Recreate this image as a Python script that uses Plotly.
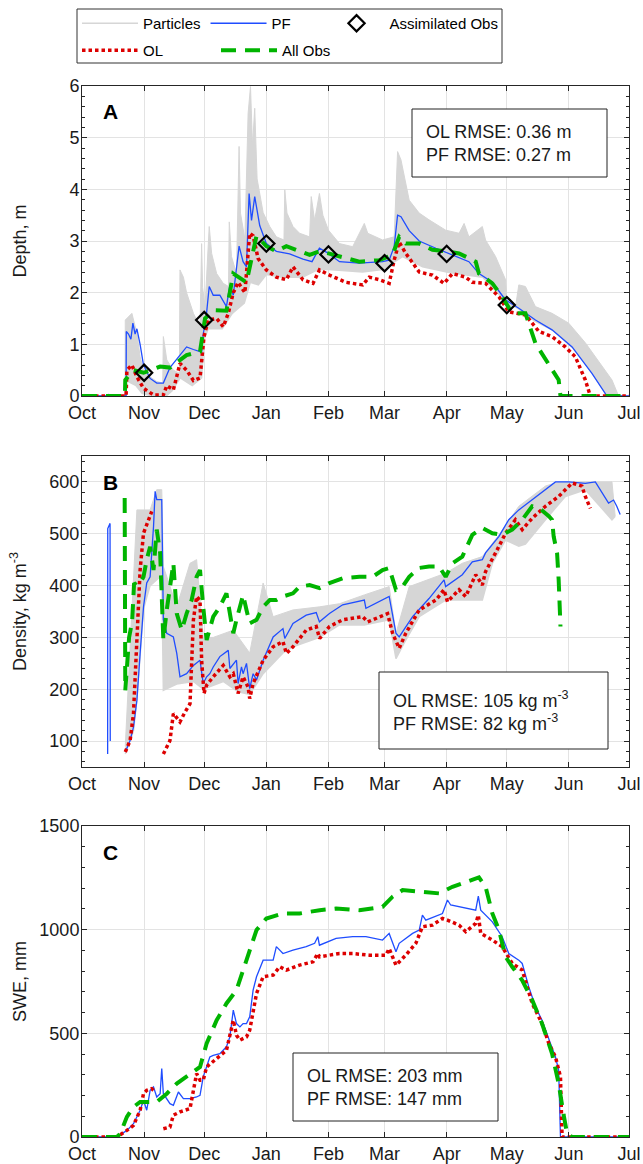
import pandas as pd
import plotly.graph_objects as go

# ---------------- axis labels ----------------
START = "2016-10-01"
month_ticks = ["2016-10-01", "2016-11-01", "2016-12-01", "2017-01-01", "2017-02-01",
               "2017-03-01", "2017-04-01", "2017-05-01", "2017-06-01", "2017-07-01"]
month_labels = ["Oct", "Nov", "Dec", "Jan", "Feb", "Mar", "Apr", "May", "Jun", "Jul"]

# ---------------- Panel A: depth (m); x = days since 1 Oct ----------------
a_obs_day = [0, 21.4, 21.6, 25.7, 30.7, 39, 43.9, 52.2, 58.9, 61.4, 65.5, 72.1, 75.5, 82.1, 87.1, 92, 97,
             102, 113.6, 118.5, 123, 138.4, 148.4, 155, 158.3, 161.6, 168.3, 174.9, 181.5, 188.2, 196.5,
             198.1, 204.8, 209.7, 214.7, 221.3, 226.3, 233, 237.9, 238.8, 273]
a_obs_val = [0, 0, 0.31, 0.5, 0.45, 0.57, 0.55, 0.79, 0.86, 1.5, 1.66, 1.65, 2.37, 2.2, 3.1, 2.9, 2.8,
             2.9, 2.73, 2.8, 2.76, 2.6, 2.63, 2.73, 3.08, 2.95, 2.95, 2.83, 2.8, 2.76, 2.6,
             2.37, 2.18, 1.92, 1.6, 1.6, 1.02, 0.63, 0.31, 0, 0]

a_pf_day = [0, 12, 13.3, 14.5, 22, 22.1, 23.2, 24.4, 25.4, 26.5, 27.4, 29, 30.7, 34, 37.3, 40.6, 43.9, 49.8,
            52.2, 55.6, 59.7, 60.5, 61.9, 63.5, 65.5, 68.8, 72.1, 73.8, 75.5, 78.4, 80.4, 82.1, 83.4, 84.6,
            86.2, 88.7, 92, 97, 103.6, 110.3, 114.8, 116.9, 118.5, 123, 128.5, 138.4, 150, 153.3, 155.8,
            157.5, 159.2, 163.3, 168.3, 176.6, 184.9, 193.1, 198.1, 204.8, 211.4, 218, 226.3, 234.6,
            244.6, 254.5, 262, 273]
a_pf_val = [0, 0, 0.03, 0, 0, 1.25, 1.2, 1.1, 1.41, 1.2, 1.3, 1.0, 0.6, 0.34, 0.25, 0.25, 0.55, 0.85,
            0.95, 0.9, 0.85, 1.2, 1.5, 2.12, 1.95, 1.95, 1.73, 2.15, 1.95, 2.9, 2.6, 2.5, 3.92, 3.4,
            3.86, 3.3, 2.95, 2.8, 2.75, 2.65, 2.6, 2.75, 2.86, 2.76, 2.6, 2.57, 2.6, 2.63, 2.89,
            3.5, 3.47, 3.2, 3.0, 2.86, 2.73, 2.6, 2.37, 2.2, 1.86, 1.7, 1.47, 1.28,
            0.95, 0.44, 0, 0]

a_ol_day = [0, 22, 22.4, 24.9, 27.4, 30.7, 35.7, 40.6, 42.3, 45.6, 48.9, 52.2, 55.6, 58.9, 60.9, 63, 67.2,
            70.5, 73, 75.5, 77.9, 81.3, 83.7, 85.4, 87.9, 92, 97, 102, 105.3, 110.3, 115.3, 118.5, 123.5,
            131.8, 140.1, 143.4, 148.4, 153.3, 155.8, 158.3, 161.6, 168.3, 174.9, 180.7, 184.9, 191.5,
            194.8, 201.4, 208.1, 213, 221.3, 228, 234.6, 241.2, 246.2, 251.2, 253.7, 273]
a_ol_val = [0, 0, 0.5, 0.6, 0.37, 0.15, 0.02, 0.02, 0.2, 0.12, 0.63, 0.5, 0.3, 0.35, 1.15, 1.47, 1.5,
            1.34, 1.6, 2.0, 2.2, 2.0, 3.15, 3.1, 2.66, 2.44, 2.3, 2.25, 2.5, 2.25, 2.18, 2.44, 2.34,
            2.2, 2.15, 2.3, 2.25, 2.18, 2.63, 2.98, 2.76, 2.4, 2.34, 2.18, 2.37, 2.3,
            2.2, 2.18, 1.92, 1.63, 1.57, 1.25, 1.15, 0.95, 0.76, 0.31, 0, 0]

a_part_hi_day = [0, 21.5, 21.6, 24.9, 27.4, 29.0, 30.7, 34.0, 37.3, 40.3, 40.6, 42.3, 45.6, 48.6, 48.9,
                 50.6, 52.2, 55.6, 58.9, 59.7, 60.2, 61.4, 63.5, 64.7, 67.2, 70.5, 73.1, 73.5, 74.6,
                 77.1, 78.4, 79.1, 81.3, 82.9, 84.1, 85.1, 86.2, 87.4, 90.4, 93.7, 97.0, 100.8, 101.2,
                 102.3, 105.3, 108.6, 113.6, 114.4, 116.1, 118.5, 120.2, 123, 128.5, 135.1, 140.9,
                 142.6, 150, 155.8, 157.5, 159.2, 163.3, 168.3, 173.2, 181.5, 188.2, 190.7, 193.1,
                 199.8, 201.4, 206.4, 211.4, 212.2, 216.4, 218, 221.3, 226.3, 234.6, 242.9, 251.2,
                 259.5, 264.5, 267.8, 273]
a_part_hi_val = [0, 0, 1.47, 1.6, 1.21, 0.76, 0.5, 0.37, 0.28, 0.25, 1.15, 0.7, 0.5, 0.44, 2.44,
                 2.3, 2.0, 1.6, 1.34, 2.95, 2.1, 1.72, 3.28, 2.76, 2.37, 2.18, 2.12, 3.37, 2.7,
                 2.37, 4.83, 3.54, 3.03, 5.47, 5.99, 4.83, 5.57, 4.2, 3.55, 3.28, 3.08, 3.02, 3.99,
                 3.54, 3.28, 3.15, 3.08, 3.86, 3.4, 3.92, 3.5, 3.21, 2.95, 2.89, 3.34,
                 3.15, 3.02, 3.08, 4.73, 4.57, 3.79, 3.54, 3.41, 3.21, 3.15, 3.34, 3.08,
                 3.28, 3.02, 2.7, 2.25, 1.73, 1.73, 2.15, 2.12, 1.73, 1.6, 1.41, 1.03,
                 0.57, 0.31, 0, 0]
a_part_lo_day = [0, 22, 22.1, 27, 30, 35, 42, 45, 49, 55, 59.7, 61, 63, 70, 75, 81, 84, 88, 92, 100, 110,
                 118, 123, 140, 150, 156, 160, 170, 182, 190, 200, 211, 218, 226, 235, 245, 255, 262, 273]
a_part_lo_val = [0, 0, 0.3, 0.2, 0.05, 0, 0, 0.1, 0.35, 0.2, 0.35, 1.1, 1.3, 1.3, 1.6, 1.8, 2.2, 2.15, 2.35,
                 2.3, 2.3, 2.45, 2.45, 2.4, 2.45, 2.6, 2.7, 2.5, 2.4, 2.35, 2.3, 1.85, 1.68, 1.45, 1.27,
                 0.93, 0.43, 0, 0]

assim_day = [31, 61, 92, 123, 151, 182, 212]
assim_val = [0.45, 1.47, 2.95, 2.74, 2.57, 2.75, 1.76]

# ---------------- Panel B: density (kg m-3) ----------------
b_obs_day = [21.3, 21.6, 23.5, 25.0, 26, 27.4, 29, 30.7, 32.3, 34, 35.7, 37.3, 39, 40.6, 42.3, 43.9, 45.6,
             47.3, 49.8, 52.2, 54.7, 57.2, 58.9, 60.5, 62.2, 65.5, 68.8, 72.1, 73.8, 75.5, 77.1, 80.4,
             82.1, 83.7, 87.1, 90.4, 93.7, 97, 100.3, 105.3, 108.6, 113.6, 118.6, 123.5, 130.1, 138.4,
             145.1, 150, 153.3, 156.7, 160, 163.3, 168.3, 173.2, 178.2, 181.5, 184.9, 189.8, 194.8,
             199.8, 204.8, 209.7, 214.7, 219.7, 224.7, 228, 233, 234.6, 235.4, 237.1, 237.9, 238.8]
b_obs_val = [569, 198, 300, 330, 405, 400, 405, 417, 450, 475, 430, 508, 463, 295, 353, 398, 443,
             346, 314, 346, 372, 417, 430, 359, 295, 340, 359, 385, 346, 308, 334, 382,
             353, 327, 334, 359, 372, 372, 379, 385, 398, 401, 395, 405, 414, 417,
             417, 430, 434, 392, 398, 417, 434, 437, 437, 417, 443, 456, 498,
             511, 501, 498, 508, 527, 553, 550, 534, 527, 495, 463, 411, 321]

b_pf_day = [12.8, 12.85, 14.0, 14.1, 14.2, 21.6, 24, 25.7, 27.4, 29, 30.7, 32.3, 34, 35.7, 36.5, 37.3, 39.8,
            40.6, 42.3, 45.6, 47.3, 48.9, 52.2, 55.6, 58.9, 60.5, 62.2, 63.8, 65.5, 68.8, 73, 73.8, 77.1,
            77.9, 79.6, 80.4, 82.1, 83.7, 85.4, 87.1, 90.4, 95.4, 100.3, 101.2, 105.3, 111.9, 116.9,
            118.5, 123.5, 130.1, 140.9, 141.7, 153.3, 156.7, 158.3, 165, 173.2, 180.7, 181.5, 189.8,
            194.8, 199.8, 201.4, 208.1, 213, 218, 224.7, 231.3, 236.3, 242.9, 251.2, 256.2, 259.5,
            262.8, 265.3, 266.9, 268.6]
b_pf_val = [75, 510, 520, 100, None, 79, 101, 127, 179, 269, 359, 405, 417, 514, 582, 566, 566,
            334, 308, 301, 269, 224, 230, 246, 256, 211, 224, 230, 243, 263, 275, 240, 256,
            211, 243, 230, 250, 201, 230, 218, 256, 301, 317, 298, 327, 343, 348,
            330, 346, 363, 372, 356, 379, 308, 301, 340, 375, 411, 398, 421,
            446, 450, 463, 495, 527, 546, 566, 585, 600, 600, 597, 600, 579,
            559, 565, 553, 537]

b_ol_day = [21.6, 24, 25.7, 27.4, 29, 30.7, 33.2, 34.8, 35.0, 40.6, 43.9, 45.6, 47.3, 48.9, 51.4, 53.9,
            55.6, 57.2, 58.9, 59.7, 60.9, 62.2, 65.5, 70.5, 73.8, 75.5, 77.9, 80.4, 82.9, 83.7, 85.4,
            90.4, 95.4, 100.3, 102, 105.3, 111.9, 116.9, 118.6, 123.5, 130.1, 140.1, 142.6, 152.5,
            155, 158.3, 161.6, 168.3, 176.6, 180.7, 182.4, 188.2, 191.5, 196.5, 199.8, 201.4, 206.4,
            211.4, 216.3, 219.7, 224.7, 231.3, 237.9, 244.6, 249.5, 251.2, 253.7]
b_ol_val = [79, 101, 153, 308, 430, 501, 527, 543, None, 75, 101, 153, 146, 137, 156, 172,
            334, 379, 372, 256, 192, 208, 224, 246, 224, 230, 192, 224, 204, 182, 211,
            256, 282, 292, 269, 282, 314, 321, 298, 321, 334, 340, 330, 346,
            308, 279, 308, 353, 372, 392, 369, 392, 379, 421, 401, 427, 463,
            501, 527, 508, 530, 553, 572, 598, 592, 572, 549]

b_part_hi_day = [21.6, 27.4, 34, 37.3, 39.8, 40.6, 47.3, 53.9, 57.2, 60.5, 65.5, 75.5, 83.7, 90.4, 95.4,
                 105.3, 118.6, 128.5, 140.9, 153.3, 156.7, 163.3, 181.5, 189.8, 199.8, 208.1, 218,
                 231.3, 237.9, 264.5, 266.1]
b_part_hi_val = [90, 546, 546, 585, 585, 437, 359, 443, 450, 300, 300, 314, 270, 405, 340,
                 353, 359, 365, 382, 398, 308, 398, 424, 443, 456, 498, 553,
                 592, 600, 600, 534]
b_part_lo_day = [21.6, 25.7, 27.4, 29, 30.7, 34, 39.8, 40.6, 47.3, 55.6, 60.5, 70.5, 77.9, 83.7, 90.4,
                 100.3, 105.3, 118.6, 128.5, 140.9, 153.3, 156.7, 161.6, 168.3, 181.5, 191.5, 199.8,
                 204.8, 211.4, 218, 221.3, 231.3, 241.2, 251.2, 264.5, 266.1]
b_part_lo_val = [75, 120, 180, 270, 355, 400, 420, 198, 210, 215, 200, 215, 195, 190, 230,
                 270, 282, 300, 324, 324, 334, 259, 295, 340, 372, 372, 372,
                 443, 488, 476, 480, 527, 572, 585, 527, 534]

# ---------------- Panel C: SWE (mm) ----------------
c_obs_day = [0, 17.4, 19.1, 22.4, 25.7, 29, 37.3, 42.3, 47.3, 52.2, 58.9, 62.2, 67.2, 72.1, 77.1, 82.1,
             87.1, 92, 100.3, 108.6, 118.6, 126.8, 138.4, 150, 155, 160, 168.3, 178.2, 184.9, 191.5,
             198.1, 201.4, 204.8, 208.1, 211.4, 214.7, 219.7, 224.7, 229.6, 234.6, 237.9, 240.4, 242.1,
             244.6, 273]
c_obs_val = [0, 0, 16, 97, 145, 169, 169, 209, 258, 290, 338, 451, 563, 644, 708, 853,
             998, 1054, 1078, 1078, 1094, 1102, 1094, 1110, 1159, 1191, 1183, 1175, 1207, 1231,
             1252, 1207, 1078, 998, 869, 821, 756, 660, 547, 402, 258, 105, 16,
             0, 0]

c_pf_day = [0, 17.4, 22.4, 25.7, 29, 30.7, 32.3, 34, 35.7, 37.3, 39, 39.8, 40.6, 43.9, 45.6, 48.1, 50.6,
            53.9, 57.2, 58.9, 60.5, 63.8, 65.5, 68.8, 72.1, 73.8, 75.5, 77.1, 78.8, 80.4, 82.1, 83.7,
            85.4, 87.1, 90.4, 95.4, 97, 100.3, 105.3, 111.9, 116.1, 117.7, 118.5, 126.8, 135.1, 141.7,
            150, 153.3, 156.7, 158.3, 165, 168.3, 169.9, 171.6, 179.9, 182.4, 184, 191.5, 196.5,
            197.8, 199, 204.8, 209.7, 213, 218, 219.7, 223, 226.3, 229.6, 233.8, 236.3, 237.9, 238.8,
            273]
c_pf_val = [0, 0, 32, 64, 129, 177, 129, 225, 241, 193, 209, 330, 209, 161, 153, 217, 185,
            185, 193, 201, 290, 386, 394, 402, 435, 483, 612, 547, 531, 547, 547, 580,
            708, 773, 853, 853, 918, 885, 901, 918, 934, 966, 925, 958, 966, 966,
            950, 982, 893, 934, 982, 998, 1070, 1046, 1078, 1143, 1119, 1102, 1094,
            1162, 1094, 1038, 966, 885, 853, 837, 724, 628, 563, 451, 386, 322, 0,
            0]

c_ol_day = [0, 17.4, 22.4, 25.7, 29, 30.7, 32.3, 34.8, 35.7, 36.0, 40.6, 43.9, 45.6, 48.9, 53.9, 55.6,
            57.2, 58.9, 60.5, 62.2, 67.2, 72.1, 75.5, 77.1, 78.8, 82.1, 83.7, 85.4, 87.1, 90.4, 95.4,
            98.7, 102, 108.6, 115.3, 117.7, 118.5, 128.5, 135.1, 143.4, 151.7, 153.3, 156.7, 161.6,
            166.6, 169.9, 174.9, 179.9, 182.4, 188.2, 191.5, 196.5, 197.8, 199, 204.8, 209.7, 214.7,
            219.7, 224.7, 229.6, 233, 236.3, 238.8, 239.6, 273]
c_ol_val = [0, 0, 32, 56, 129, 209, 225, 233, 225, None, 40, 48, 105, 121, 137, 225,
            306, 274, 274, 338, 378, 418, 563, 491, 467, 483, 515, 612, 692, 773, 781,
            821, 805, 829, 845, 885, 869, 885, 885, 877, 877, 909, 829, 877,
            934, 1014, 1022, 1054, 1046, 1022, 990, 1030, 1070, 982, 950, 918, 837,
            805, 644, 547, 451, 386, 290, 0, 0]

y_titles = ["Depth, m", "Density, kg m<sup>-3</sup>", "SWE, mm"]
rmse_texts = ["OL RMSE: 0.36 m<br>PF RMSE: 0.27 m",
              "OL RMSE: 105 kg m<sup>-3</sup><br>PF RMSE: 82 kg m<sup>-3</sup>",
              "OL RMSE: 203 mm<br>PF RMSE: 147 mm"]

# ---------------- styles ----------------
FONT = "Liberation Sans, Arial, Helvetica, sans-serif"
C_PART = "#d6d6d6"
C_PF = "#1f4dff"
C_OL = "#dd0000"
C_OBS = "#00b400"
AX = "#262626"
GRID = "#e3e3e3"


def dates(days):
    base = pd.Timestamp(START)
    return [base + pd.Timedelta(days=float(d)) for d in days]


fig = go.Figure()


def add_panel(n, lo_d, lo_v, hi_d, hi_v, pf_d, pf_v, ol_d, ol_v, ob_d, ob_v, first):
    xa = "x" if n == 1 else f"x{n}"
    ya = "y" if n == 1 else f"y{n}"
    if lo_d is not None:
        fig.add_trace(go.Scatter(x=dates(lo_d), y=lo_v, mode="lines", name="Particles",
                                 line=dict(color=C_PART, width=1.5), xaxis=xa, yaxis=ya,
                                 legend="legend", showlegend=first, hoverinfo="skip"))
        fig.add_trace(go.Scatter(x=dates(hi_d), y=hi_v, mode="lines", name="Particles",
                                 line=dict(color=C_PART, width=1), fill="tonexty", fillcolor=C_PART,
                                 xaxis=xa, yaxis=ya, showlegend=False, hoverinfo="skip"))
    fig.add_trace(go.Scatter(x=dates(pf_d), y=pf_v, mode="lines", name="PF",
                             line=dict(color=C_PF, width=1.3), xaxis=xa, yaxis=ya,
                             legend="legend", showlegend=first, legendwidth=47))
    fig.add_trace(go.Scatter(x=dates(ol_d), y=ol_v, mode="lines", name="OL",
                             line=dict(color=C_OL, width=3.5, dash="3.5px,3px"), xaxis=xa, yaxis=ya,
                             legend="legend2", showlegend=first, legendwidth=68))
    fig.add_trace(go.Scatter(x=dates(ob_d), y=ob_v, mode="lines", name="All Obs",
                             line=dict(color=C_OBS, width=4, dash="15px,9px"), xaxis=xa, yaxis=ya,
                             legend="legend2", showlegend=first, legendwidth=70))


add_panel(1, a_part_lo_day, a_part_lo_val, a_part_hi_day, a_part_hi_val, a_pf_day, a_pf_val,
          a_ol_day, a_ol_val, a_obs_day, a_obs_val, True)
add_panel(2, b_part_lo_day, b_part_lo_val, b_part_hi_day, b_part_hi_val, b_pf_day, b_pf_val,
          b_ol_day, b_ol_val, b_obs_day, b_obs_val, False)
add_panel(3, None, None, None, None, c_pf_day, c_pf_val,
          c_ol_day, c_ol_val, c_obs_day, c_obs_val, False)

fig.add_trace(go.Scatter(x=dates(assim_day), y=assim_val, mode="markers", name="Assimilated Obs",
                         marker=dict(symbol="diamond-open", size=12.5, color="black",
                                     line=dict(color="black", width=2.2)),
                         xaxis="x", yaxis="y", legend="legend", legendwidth=130, cliponaxis=False))

W, H = 643, 1164
L, R, T, B = 82, 14, 86, 27
PH = H - T - B


def py(px):
    return (H - B - px) / PH


def pxx(px):
    return (px - L) / (W - L - R)


xcommon = dict(type="date", range=[month_ticks[0], month_ticks[-1]], tickvals=month_ticks,
               ticktext=month_labels, ticks="inside", ticklen=5, tickcolor=AX, showline=True,
               linecolor=AX, linewidth=1, mirror="ticks", showgrid=True, gridcolor=GRID, gridwidth=1,
               tickfont=dict(size=18, color="#1a1a1a"), zeroline=False, ticklabelstandoff=0,
               automargin=False)


def ycommon(rng, dt, minor_dt, title, standoff):
    return dict(range=rng, dtick=dt, ticks="inside", ticklen=5, tickcolor=AX, showline=True,
                linecolor=AX, linewidth=1, mirror="ticks", showgrid=True, gridcolor=GRID,
                zeroline=False, tickfont=dict(size=18, color="#1a1a1a"), ticklabelstandoff=-2,
                automargin=False,
                title=dict(text=title, standoff=standoff, font=dict(size=18, color="#1a1a1a")),
                minor=dict(ticks="inside", dtick=minor_dt, ticklen=3, tickcolor=AX, showgrid=False))


dA = [py(396), py(86)]
dB = [py(767), py(456)]
dC = [py(1137), py(826)]

fig.update_layout(
    width=W, height=H, margin=dict(l=L, r=R, t=T, b=B, autoexpand=False),
    paper_bgcolor="white", plot_bgcolor="white",
    font=dict(family=FONT, color="#1a1a1a"),
    xaxis=dict(**xcommon, anchor="y", domain=[0, 1]),
    xaxis2=dict(**xcommon, anchor="y2", domain=[0, 1]),
    xaxis3=dict(**xcommon, anchor="y3", domain=[0, 1]),
    yaxis=dict(**ycommon([0, 6], 1, 0.2, y_titles[0], 38), anchor="x", domain=dA),
    yaxis2=dict(**ycommon([50, 650], 100, 20, y_titles[1], 18), anchor="x2", domain=dB),
    yaxis3=dict(**ycommon([0, 1500], 500, 100, y_titles[2], 8), anchor="x3", domain=dC),
    legend=dict(orientation="h", x=pxx(77), y=py(7), xanchor="left", yanchor="top",
                font=dict(size=15, color="black"), itemwidth=56,
                bgcolor="rgba(0,0,0,0)", borderwidth=0, traceorder="normal"),
    legend2=dict(orientation="h", x=pxx(77), y=py(34), xanchor="left", yanchor="top",
                 font=dict(size=15, color="black"), itemwidth=56,
                 bgcolor="rgba(0,0,0,0)", borderwidth=0, traceorder="normal"),
    showlegend=True,
)

shapes = []
# legend frame
shapes.append(dict(type="rect", xref="paper", yref="paper", x0=pxx(77), x1=pxx(502), y0=py(63),
                   y1=py(9), line=dict(color="#333333", width=1), fillcolor="rgba(0,0,0,0)",
                   layer="above"))

ann = []
# panel letters
for letter, ypx in (("A", 112), ("B", 482), ("C", 852)):
    ann.append(dict(text=f"<b>{letter}</b>", x=pxx(101), y=py(ypx), xref="paper", yref="paper",
                    xanchor="left", yanchor="middle", showarrow=False, font=dict(size=21, color="black")))
# RMSE boxes: (left, top, right, bottom) in px
box_px = [(412, 109, 607, 177), (379, 672, 608, 749), (293, 1053, 498, 1121)]
for txt, (x0, y0, x1, y1) in zip(rmse_texts, box_px):
    shapes.append(dict(type="rect", xref="paper", yref="paper", x0=pxx(x0), x1=pxx(x1), y0=py(y1),
                       y1=py(y0), line=dict(color="#222222", width=1), fillcolor="white",
                       layer="above"))
    ann.append(dict(text=txt, x=pxx(x0 + 12), y=py((y0 + y1) / 2), xref="paper", yref="paper",
                    xanchor="left", yanchor="middle", showarrow=False, align="left",
                    font=dict(size=18, color="#1a1a1a")))
fig.update_layout(annotations=ann, shapes=shapes)

fig.write_html("out.html", config={"displayModeBar": False},
               post_script="document.body.style.margin='0px';")
